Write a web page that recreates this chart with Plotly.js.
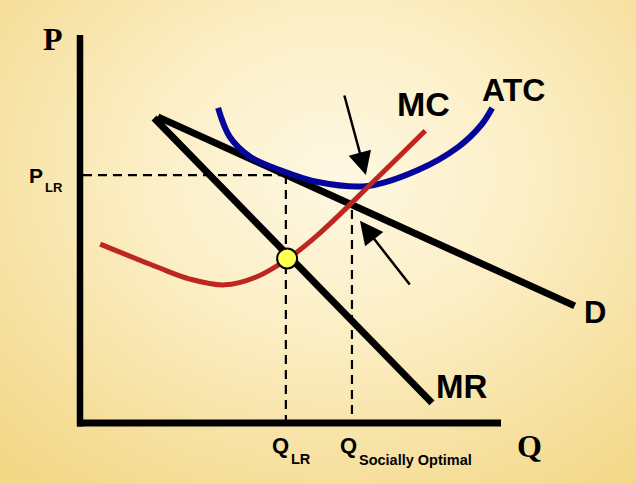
<!DOCTYPE html>
<html>
<head>
<meta charset="utf-8">
<script src="https://cdn.plot.ly/plotly-3.0.1.min.js"></script>
<style>
  html, body { margin: 0; padding: 0; }
  #chart {
    width: 636px; height: 484px;
    background: radial-gradient(ellipse 75% 80% at 53% 36%, #fef8e2 0%, #fcefc6 40%, #f6df9c 80%, #f3d888 100%);
  }
</style>
</head>
<body>
<div id="chart"></div>
<script>
// quantity (Q) and price (P) in chart units
const demandQ = [1.85, 11.75];
const demandP = [7.89, 3.02];

const mrQ = [1.76, 8.36];
const mrP = [7.86, 0.52];

const mcQ = [0.48, 1.83, 2.61, 3.44, 4.20, 4.92, 5.65, 6.96, 8.20];
const mcP = [4.61, 4.02, 3.71, 3.56, 3.77, 4.22, 4.85, 6.21, 7.53];

const atcQ = [3.28, 3.56, 4.04, 4.75, 5.65, 6.84, 8.03, 8.98, 9.53, 9.79];
const atcP = [8.12, 7.37, 6.86, 6.52, 6.21, 6.11, 6.52, 7.11, 7.68, 8.12];

// long-run equilibrium and socially optimal points
const qLR = 4.89;
const pLR = 6.39;
const qSO = 6.46;
const pSO = 5.49;
const mcMrQ = 4.92;
const mcMrP = 4.24;

const black = '#000000';
const red = '#bd2720';
const blue = '#05059c';
const dashStyle = {color: black, width: 2.2, dash: '9px,6px'};

function line(x, y, style, shape) {
  return {x, y, type: 'scatter', mode: 'lines', line: {...style, shape: shape || 'linear'},
          hoverinfo: 'skip', showlegend: false};
}

const traces = [
  line([0.07, qLR], [pLR, pLR], dashStyle),
  line([qLR, qLR], [pLR, 0], dashStyle),
  line([qSO, qSO], [pSO, 0], dashStyle),
  line(demandQ, demandP, {color: black, width: 7}),
  line(mrQ, mrP, {color: black, width: 7}),
  line(atcQ, atcP, {color: blue, width: 6}, 'spline'),
  line(mcQ, mcP, {color: red, width: 5}, 'spline'),
  {x: [mcMrQ], y: [mcMrP], type: 'scatter', mode: 'markers', hoverinfo: 'skip', showlegend: false,
   marker: {size: 20, color: '#ffff55', line: {color: black, width: 2}}},
  // axes
  line([0, 0], [10, -0.09], {color: black, width: 6.5}),
  line([-0.07, 10], [0, 0], {color: black, width: 7})
];

const sans = 'Liberation Sans, Arial, sans-serif';
const serif = 'Liberation Serif, Times New Roman, serif';

function label(text, x, y, size, family) {
  return {text, x, y, xref: 'x', yref: 'y', showarrow: false, xanchor: 'center', yanchor: 'middle',
          font: {family: family || sans, size, color: black, weight: 'bold'}};
}

function arrow(x, y, ax, ay) {
  return {x, y, ax, ay, xref: 'x', yref: 'y', axref: 'x', ayref: 'y', text: '', showarrow: true,
          arrowhead: 2, arrowsize: 1.85, arrowwidth: 2.5, arrowcolor: black, standoff: 0};
}

const annotations = [
  label('<b>P</b>', -0.64, 9.90, 32, serif),
  label('<b>Q</b>', 10.67, -0.59, 32, serif),
  label('<b>P</b>', -1.05, 6.39, 21),
  label('<b>LR</b>', -0.62, 6.08, 13),
  label('<b>Q</b>', 4.77, -0.59, 22),
  label('<b>LR</b>', 5.25, -0.93, 14.5),
  label('<b>Q</b>', 6.37, -0.59, 22),
  label('<b>Socially Optimal</b>', 7.96, -0.95, 14.5),
  label('<b>MC</b>', 8.17, 8.22, 34),
  label('<b>ATC</b>', 10.29, 8.58, 32),
  label('<b>D</b>', 12.23, 2.86, 31),
  label('<b>MR</b>', 9.05, 0.93, 33),
  arrow(6.79, 6.39, 6.27, 8.48),
  arrow(6.65, 5.21, 7.86, 3.53)
];

const hidden = {showgrid: false, zeroline: false, showticklabels: false, showline: false,
                ticks: '', fixedrange: true};

const layout = {
  width: 636,
  height: 484,
  margin: {l: 0, r: 0, t: 0, b: 0},
  paper_bgcolor: 'rgba(0,0,0,0)',
  plot_bgcolor: 'rgba(0,0,0,0)',
  xaxis: {...hidden, range: [-1.9002, 13.2067]},
  yaxis: {...hidden, range: [-1.5722, 10.9021]},
  annotations
};

Plotly.newPlot('chart', traces, layout, {displayModeBar: false, staticPlot: true});
</script>
</body>
</html>
